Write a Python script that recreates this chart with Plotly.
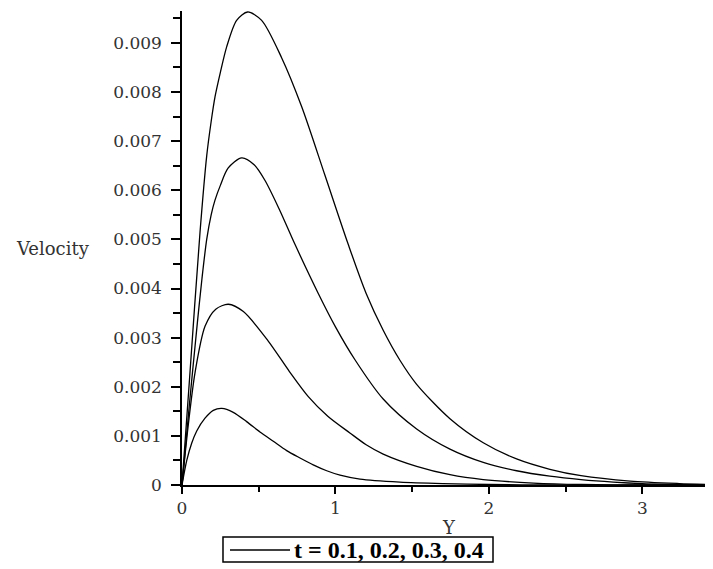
import plotly.graph_objects as go

# Data (Y vs Velocity for four times)
legend_label = "t = 0.1, 0.2, 0.3, 0.4"

y_t01 = [0, 0.031, 0.063, 0.096, 0.15, 0.204, 0.259, 0.334, 0.421, 0.508, 0.595, 0.682, 0.769, 0.855, 0.943, 1.03, 1.16, 1.42, 1.7, 2.0, 2.4, 3.0, 3.45]
v_t01 = [0, 0.00050, 0.00085, 0.00110, 0.00136, 0.00152, 0.00156, 0.00148, 0.00129, 0.00108, 0.00089, 0.00070, 0.00055, 0.00041, 0.00029, 0.00020, 0.00012, 0.00006, 0.00003, 0.00001, 0.0, 0.0, 0.0]

y_t02 = [0, 0.04, 0.085, 0.15, 0.22, 0.302, 0.4, 0.562, 0.7, 0.823, 0.95, 1.094, 1.2, 1.311, 1.529, 1.746, 1.963, 2.29, 2.6, 3.0, 3.45]
v_t02 = [0, 0.0012, 0.00229, 0.00323, 0.00358, 0.00368, 0.00353, 0.00293, 0.00231, 0.0018, 0.0014, 0.00106, 0.00082, 0.00063, 0.00038, 0.00021, 0.00011, 0.00004, 0.00001, 0.0, 0.0]

y_t03 = [0, 0.05, 0.1, 0.13, 0.161, 0.19, 0.215, 0.25, 0.3, 0.389, 0.47, 0.541, 0.636, 0.736, 0.888, 1.0, 1.127, 1.311, 1.529, 1.746, 1.963, 2.18, 2.397, 2.6, 2.81, 3.0, 3.45]
v_t03 = [0, 0.0017, 0.0033, 0.0042, 0.0050, 0.0055, 0.0058, 0.0061, 0.00645, 0.00666, 0.00652, 0.0062, 0.0056, 0.0049, 0.0039, 0.00322, 0.00255, 0.00175, 0.00114, 0.00073, 0.00046, 0.00029, 0.00018, 0.00011, 0.00006, 0.00003, 0.0]

y_t04 = [0, 0.05, 0.117, 0.161, 0.19, 0.215, 0.25, 0.291, 0.356, 0.428, 0.519, 0.649, 0.78, 0.932, 1.083, 1.2, 1.311, 1.42, 1.529, 1.746, 1.963, 2.18, 2.397, 2.6, 2.92, 3.24, 3.45]
v_t04 = [0, 0.0022, 0.00513, 0.0067, 0.0074, 0.0079, 0.0084, 0.00892, 0.00946, 0.00963, 0.00946, 0.0087, 0.0077, 0.0063, 0.0049, 0.0039, 0.00315, 0.00254, 0.00205, 0.00135, 0.00086, 0.00053, 0.00032, 0.00019, 0.00008, 0.00003, 0.00001]

x_ticks = [0, 1, 2, 3]
y_ticks = [0, 0.001, 0.002, 0.003, 0.004, 0.005, 0.006, 0.007, 0.008, 0.009]
y_ticktext = ["0", "0.001", "0.002", "0.003", "0.004", "0.005", "0.006", "0.007", "0.008", "0.009"]

series = [(y_t01, v_t01), (y_t02, v_t02), (y_t03, v_t03), (y_t04, v_t04)]

fig = go.Figure()
for i, (xs, vs) in enumerate(series):
    fig.add_trace(go.Scatter(
        x=xs, y=vs, mode="lines",
        line=dict(color="black", width=1.3, shape="spline", smoothing=0.8),
        name=legend_label, showlegend=False,
    ))

tick_font = dict(family="DejaVu Serif", size=17, color="#333333")
label_font = dict(family="DejaVu Serif", size=18, color="#333333")

# The page body has an 8px default margin, so the figure is sized to fill
# the remaining 705x561 area of the 713x569 window.
fig.update_layout(
    width=705, height=561,
    margin=dict(l=174, r=0, t=3, b=84),
    paper_bgcolor="white", plot_bgcolor="white",
    showlegend=False,
    xaxis=dict(
        range=[0, 3.46], tickvals=x_ticks, ticktext=[str(v) for v in x_ticks],
        showgrid=False, zeroline=False, showline=True, linecolor="black", linewidth=1.5,
        ticks="outside", ticklen=7, tickwidth=1.5, tickcolor="black",
        minor=dict(dtick=0.5, ticks="outside", ticklen=5, tickcolor="black", tickwidth=1.5),
        tickfont=tick_font, automargin=False,
    ),
    yaxis=dict(
        range=[0, 0.00965], tickvals=y_ticks, ticktext=y_ticktext,
        showgrid=False, zeroline=False, showline=True, linecolor="black", linewidth=1.5,
        ticks="outside", ticklen=9, tickwidth=1.5, tickcolor="black",
        minor=dict(dtick=0.0005, ticks="outside", ticklen=7, tickcolor="black", tickwidth=1.5),
        tickfont=tick_font, ticklabelstandoff=6, automargin=False,
    ),
    annotations=[
        dict(text="Velocity", xref="paper", yref="paper", x=-0.243, y=0.5,
             xanchor="center", yanchor="middle", showarrow=False, font=label_font),
        dict(text="Y", xref="paper", yref="paper", x=0.503, y=-0.09,
             xanchor="center", yanchor="middle", showarrow=False, font=label_font),
        # legend text
        dict(text="<b>" + legend_label + "</b>", xref="paper", yref="paper",
             x=0.207, y=-0.1371, xanchor="left", yanchor="middle", showarrow=False,
             font=dict(family="Liberation Serif", size=24, color="black")),
    ],
    shapes=[
        # legend box and sample line
        dict(type="rect", xref="paper", yref="paper", x0=0.0772, x1=0.5857,
             y0=-0.1624, y1=-0.1097, line=dict(color="black", width=1.5),
             fillcolor="white", layer="below"),
        dict(type="line", xref="paper", yref="paper", x0=0.0904, x1=0.2034,
             y0=-0.1371, y1=-0.1371, line=dict(color="black", width=1.3)),
    ],
)

fig.write_html("out.html")
